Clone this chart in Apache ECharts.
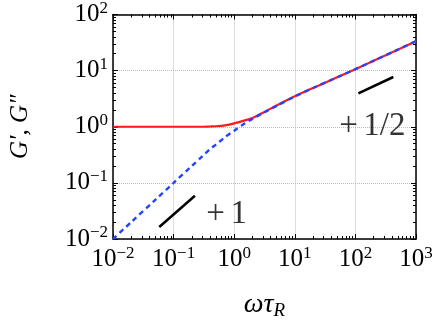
<!DOCTYPE html>
<html>
<head>
<meta charset="utf-8">
<script src="https://cdn.jsdelivr.net/npm/echarts@6/dist/echarts.min.js"></script>
<style>
  html, body { margin: 0; padding: 0; background: #fff; }
  #chart { width: 436px; height: 325px; }
</style>
</head>
<body>
<div id="chart"></div>
<script>
// frequency (omega * tau_R)
const omega = [0.01, 0.02, 0.05, 0.1, 0.2, 0.3, 0.4, 0.5, 0.7, 1, 1.5, 2, 3, 5, 10, 20, 50, 100, 200, 500, 1000]
// storage modulus G'
const gStorage = [1.0, 1.0, 1.0, 1.0, 1.0, 1.0, 1.01, 1.02, 1.06, 1.15, 1.3, 1.43, 1.78, 2.4, 3.5, 4.9, 7.6, 10.6, 15, 23.6, 33.5]
// loss modulus G''
const gLoss = [0.01, 0.02, 0.05, 0.1, 0.2, 0.3, 0.4, 0.48, 0.65, 0.85, 1.15, 1.38, 1.76, 2.35, 3.45, 4.9, 7.6, 10.6, 15, 23.6, 33.5]
// slope guides
const slopeOne = [[0.058, 0.0164], [0.225, 0.059]]
const slopeHalf = [[112, 3.95], [422, 7.7]]
const slopeLabels = [
  { pos: [0.75, 0.0275], text: '+\u20061' },
  { pos: [190, 1.02], text: '+\u20061/2' }
]

const serif = '"Liberation Serif", "DejaVu Serif", serif'
const chart = echarts.init(document.getElementById('chart'))

const pow10 = v => {
  const e = Math.round(Math.log10(v))
  return '{b|10}{s|' + String(e).replace('-', '\u2212') + '}'
}
const labelRich = {
  b: { fontFamily: serif, fontSize: 25, color: '#000' },
  s: { fontFamily: serif, fontSize: 17, color: '#000', verticalAlign: 'top', padding: [0, 0, 12, 0] }
}

const baseAxis = {
  type: 'log',
  logBase: 10,
  axisLine: { lineStyle: { color: '#000', width: 1.5 } },
  axisTick: { inside: true, length: 5, lineStyle: { color: '#000' } },
  minorTick: { show: true, splitNumber: 9, length: 3, lineStyle: { color: '#000' } },
  splitLine: { show: false }
}

const pair = arr => arr.map((v, i) => [omega[i], v])

const options = {
  animation: false,
  grid: { left: 113, right: 20, top: 14, bottom: 82 },
  xAxis: [
    Object.assign({}, baseAxis, {
      min: 0.01, max: 1000,
      position: 'bottom',
      axisLabel: { formatter: pow10, rich: labelRich, margin: 6 },
      splitLine: { show: true, lineStyle: { color: '#bbb', type: 'dotted' } },
      name: '{i|\u03c9\u03c4}{r|R}',
      nameLocation: 'middle',
      nameGap: 50,
      nameTextStyle: {
        rich: {
          i: { fontFamily: serif, fontStyle: 'italic', fontSize: 28, color: '#000' },
          r: { fontFamily: serif, fontStyle: 'italic', fontSize: 19, color: '#000', verticalAlign: 'bottom', padding: [12, 0, 0, 0] }
        }
      }
    }),
    Object.assign({}, baseAxis, {
      min: 0.01, max: 1000,
      position: 'top',
      axisLabel: { show: false }
    })
  ],
  yAxis: [
    Object.assign({}, baseAxis, {
      min: 0.01, max: 100,
      position: 'left',
      axisLabel: { formatter: pow10, rich: labelRich, margin: 5 },
      splitLine: { show: true, lineStyle: { color: '#bbb', type: 'dotted' } },
      name: "G\u2032, G\u2033",
      nameLocation: 'middle',
      nameGap: 80,
      nameRotate: 90,
      nameTextStyle: { fontFamily: serif, fontStyle: 'italic', fontSize: 25, color: '#000' }
    }),
    Object.assign({}, baseAxis, {
      min: 0.01, max: 100,
      position: 'right',
      axisLabel: { show: false }
    })
  ],
  series: [
    {
      name: "G'",
      type: 'line',
      data: pair(gStorage),
      smooth: 0.3,
      showSymbol: false,
      lineStyle: { color: '#ff1a1a', width: 2.2 },
      z: 2
    },
    {
      name: "G''",
      type: 'line',
      data: pair(gLoss),
      smooth: 0.3,
      showSymbol: false,
      lineStyle: { color: '#2244ff', width: 2.4, type: [5, 4] },
      z: 3
    },
    {
      type: 'line',
      data: slopeOne,
      showSymbol: false,
      lineStyle: { color: '#000', width: 2.5 },
      z: 4
    },
    {
      type: 'line',
      data: slopeHalf,
      showSymbol: false,
      lineStyle: { color: '#000', width: 2.5 },
      z: 4
    },
    {
      type: 'scatter',
      symbolSize: 0,
      data: slopeLabels.map(d => ({ value: d.pos, name: d.text })),
      label: {
        show: true,
        position: 'inside',
        formatter: p => p.name,
        fontFamily: serif,
        fontSize: 33,
        color: '#000'
      },
      z: 5
    }
  ]
}

chart.setOption(options)
</script>
</body>
</html>
